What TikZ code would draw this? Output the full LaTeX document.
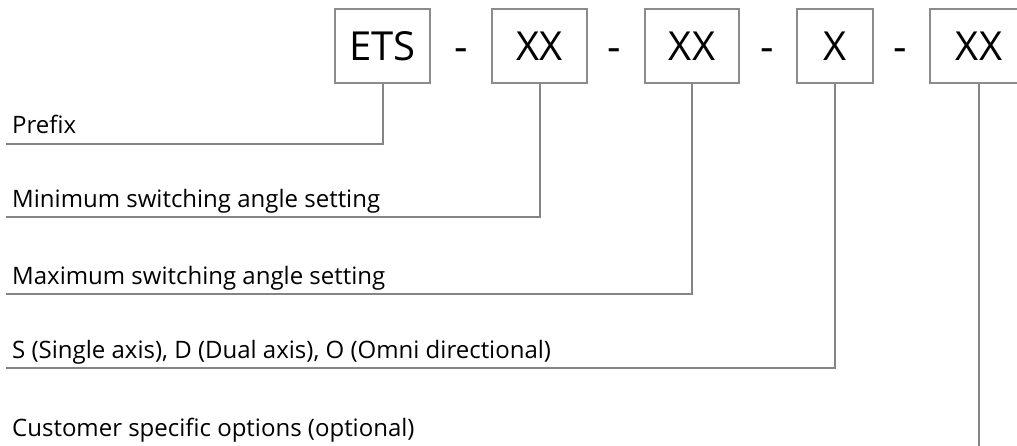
\documentclass[tikz,border=0pt]{standalone}
\usepackage{fontspec}
\setmainfont{Open Sans}
\definecolor{boxgray}{HTML}{8C8C8C}
\definecolor{linegray}{HTML}{858585}
\begin{document}
\begin{tikzpicture}[x=1pt,y=-1pt,
  codebox/.style={draw=boxgray, line width=1.4pt, minimum height=74pt,
    inner sep=0pt, font=\fontsize{40}{44}\selectfont},
  sep/.style={anchor=base, inner sep=0pt, font=\fontsize{42}{46}\selectfont},
  lead/.style={draw=linegray, line width=2pt},
  desc/.style={anchor=base west, inner sep=0pt, font=\fontsize{24}{28}\selectfont}]
\useasboundingbox (0,0) rectangle (1017,446);
\clip (0,0) rectangle (1017,446);

% code fields
\node[codebox, minimum width=95pt] (ets) at (382.5,46) {ETS};
\node[codebox, minimum width=95pt] (xa)  at (539.5,46) {XX};
\node[codebox, minimum width=94pt] (xb)  at (692,46)   {XX};
\node[codebox, minimum width=76pt] (xc)  at (835,46)   {X};
\node[codebox, minimum width=98pt] (xd)  at (979,46)   {XX};

% separators
\node[sep] (s1) at (461,62) {-};
\node[sep] (s2) at (614,62) {-};
\node[sep] (s3) at (767,62) {-};
\node[sep] (s4) at (900,62) {-};

% descriptions
\node[desc] (d1) at (12,134) {Prefix};
\node[desc] (d2) at (12,208) {Minimum switching angle setting};
\node[desc] (d3) at (12,284) {Maximum switching angle setting};
\node[desc] (d4) at (12,358) {S (Single axis), D (Dual axis), O (Omni directional)};
\node[desc] (d5) at (12,436) {Customer specific options (optional)};

% leader ends
\coordinate (e1) at (6,144);
\coordinate (e2) at (6,217.5);
\coordinate (e3) at (6,294);
\coordinate (e4) at (6,368);
\coordinate (e5) at (979,446);

% leaders
\draw[lead] (ets.south) |- (e1);
\draw[lead] (xa.south) |- (e2);
\draw[lead] (xb.south) |- (e3);
\draw[lead] (xc.south) |- (e4);
\draw[lead] (xd.south) -- (e5);
\end{tikzpicture}
\end{document}
